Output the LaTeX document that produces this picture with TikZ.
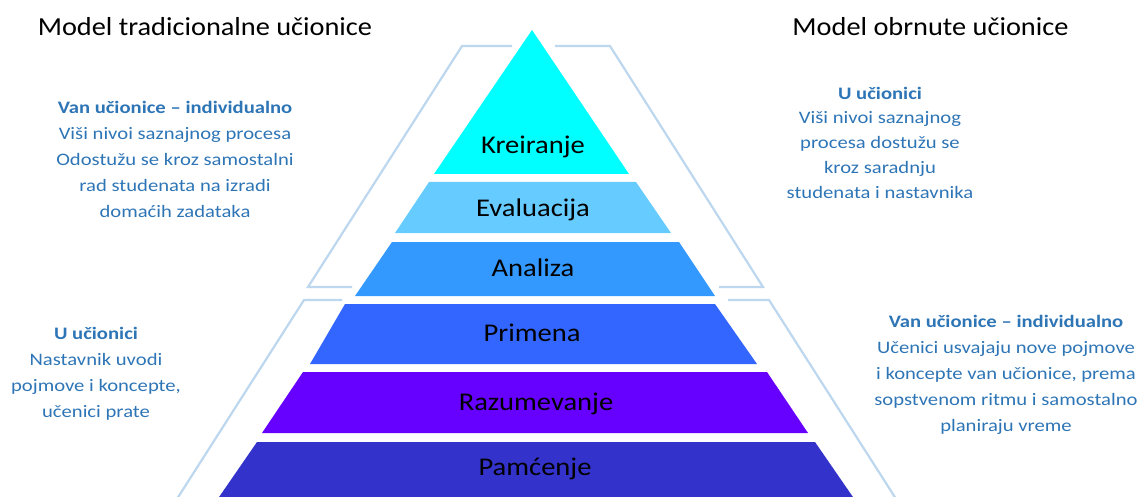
\documentclass[tikz,border=0pt]{standalone}
\usepackage{fontspec}
\setmainfont{Carlito}
\newfontfamily\ttlfont[FakeStretch=1.09]{Carlito}
\newfontfamily\lblfont[FakeStretch=1.12]{Carlito}
\newfontfamily\sidefont[FakeStretch=1.18]{Carlito}
\definecolor{cKre}{HTML}{00FFFF}
\definecolor{cEva}{HTML}{66CCFF}
\definecolor{cAna}{HTML}{3399FF}
\definecolor{cPri}{HTML}{3366FF}
\definecolor{cRaz}{HTML}{6600FF}
\definecolor{cPam}{HTML}{3333CC}
\definecolor{frameblue}{HTML}{BDD7EE}
\definecolor{textblue}{HTML}{2E75B6}
\tikzset{
  framel/.style={draw=frameblue, line width=2.2pt, line join=miter},
  lbl/.style={font=\lblfont\fontsize{25.5}{28}\selectfont, text=black, inner sep=0pt},
  ttl/.style={font=\ttlfont\fontsize{26}{30}\selectfont, text=black, inner sep=0pt},
  side/.style={font=\sidefont\fontsize{17.5}{26}\selectfont, text=textblue, align=center, inner sep=0pt},
}
\begin{document}
\begin{tikzpicture}[x=1pt,y=-1pt]
\useasboundingbox (0,0) rectangle (1140,497);
\clip (0,0) rectangle (1140,497);
% frames
\draw[framel] (512,46) -- (462,46) -- (308,287) -- (352,287);
\draw[framel] (555,46) -- (610,46) -- (763,287) -- (719,287);
\draw[framel] (342,300) -- (304,300) -- (175,502);
\draw[framel] (728,300) -- (769,300) -- (898,502);
% layers
\fill[cKre] (532,30) -- (629,174) -- (434,174) -- cycle;
\fill[cEva] (429,182) -- (636,182) -- (671,233) -- (395,233) -- cycle;
\fill[cAna] (392,242) -- (679,242) -- (715,296) -- (355,296) -- cycle;
\fill[cPri] (345,304) -- (715,304) -- (757,364) -- (310,364) -- cycle;
\fill[cRaz] (303,372) -- (767,372) -- (808,433) -- (262,433) -- cycle;
\fill[cPam] (257,442) -- (815,442) -- (855,500) -- (217,500) -- cycle;
% layer labels
\node[lbl] (kre) at (533,147) {Kreiranje};
\node[lbl] (eva) at (533,210) {Evaluacija};
\node[lbl] (ana) at (533,268) {Analiza};
\node[lbl] (pri) at (532,333) {Primena};
\node[lbl] (raz) at (536,404) {Razumevanje};
\node[lbl] (pam) at (535,469) {Pamćenje};
% titles
\node[ttl] (t1) at (205,27) {Model tradicionalne učionice};
\node[ttl] (t2) at (930.5,27) {Model obrnute učionice};
% side texts
\node[side] (lt) at (175,159.5) {\textbf{Van učionice – individualno}\\Viši nivoi saznajnog procesa\\Odostužu se kroz samostalni\\rad studenata na izradi\\domaćih zadataka};
\node[side, font=\sidefont\fontsize{17.5}{24.75}\selectfont] (rt) at (880,142.5) {\textbf{U učionici}\\Viši nivoi saznajnog\\procesa dostužu se\\kroz saradnju\\studenata i nastavnika};
\node[side] (lb) at (96,374) {\textbf{U učionici}\\Nastavnik uvodi\\pojmove i koncepte,\\učenici prate};
\node[side] (rb) at (1006,374.5) {\textbf{Van učionice – individualno}\\Učenici usvajaju nove pojmove\\i koncepte van učionice, prema\\sopstvenom ritmu i samostalno\\planiraju vreme};
\end{tikzpicture}
\end{document}
